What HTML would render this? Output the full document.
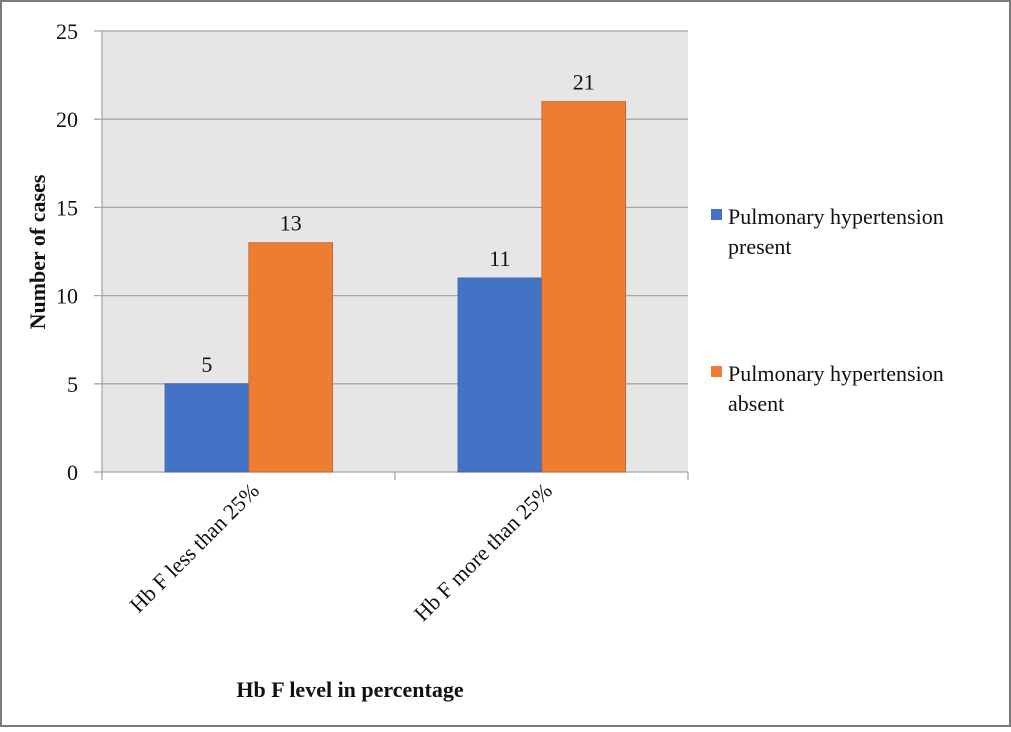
<!DOCTYPE html>
<html><head><meta charset="utf-8"><style>
body{margin:0;background:#fff}
svg text{font-family:"Liberation Serif",serif;fill:#111}
</style></head><body>
<svg width="1011" height="727" viewBox="0 0 1011 727" xmlns="http://www.w3.org/2000/svg">
<rect x="1" y="1" width="1009" height="725" fill="#fff" stroke="#7a7a7a" stroke-width="2"/>
<g id="plot"></g>
<text x="45" y="252" font-size="22" font-weight="bold" text-anchor="middle" transform="rotate(-90 45 252)">Number  of  cases</text>
<text x="350" y="697" font-size="22" font-weight="bold" text-anchor="middle">Hb F  level in percentage</text>
<g>
<rect x="711" y="209" width="11" height="11" fill="#4472c4"/>
<text x="728" y="224" font-size="22"><tspan x="728">Pulmonary hypertension</tspan><tspan x="728" dy="30">present</tspan></text>
<rect x="711" y="366" width="11" height="11" fill="#ed7d31"/>
<text x="728" y="381" font-size="22"><tspan x="728">Pulmonary hypertension</tspan><tspan x="728" dy="30">absent</tspan></text>
</g>
</svg>
<script>
const categories=["Hb F less than 25%","Hb F more than 25%"];
const present=[5,11];
const absent=[13,21];
const yTicks=[0,5,10,15,20,25];
const NS="http://www.w3.org/2000/svg";
const g=document.getElementById('plot');
const x0=102,x1=688,yTop=31,yBot=472,yMax=25;
const y=v=>yBot-(v/yMax)*(yBot-yTop);
const cw=(x1-x0)/categories.length;
function mk(t,a,p){const e=document.createElementNS(NS,t);for(const k in a)e.setAttribute(k,a[k]);(p||g).appendChild(e);return e;}
const bg=mk('rect',{x:x0,y:yTop,width:x1-x0,height:yBot-yTop,fill:'#e6e6e6'});


yTicks.forEach(t=>{
 const l=mk('line',{x1:94,x2:x1,y1:y(t),y2:y(t),stroke:'#a6a6a6','stroke-width':1.3});
 
 
 const tx=mk('text',{x:78,y:y(t)+8,'font-size':22,'text-anchor':'end'});
 tx.textContent=t;
 
 
});
const ax=mk('line',{x1:x0,x2:x0,y1:yTop,y2:yBot,stroke:'#a6a6a6','stroke-width':1.3});


for(let i=0;i<=categories.length;i++){
 const tk=mk('line',{x1:x0+i*cw,x2:x0+i*cw,y1:yBot,y2:yBot+8,stroke:'#a6a6a6','stroke-width':1.3});
 
 
}
const bw=cw*0.286,off=cw*0.215;
categories.forEach((c,i)=>{
 [[present,'#4472c4','present'],[absent,'#ed7d31','absent']].forEach(([s,col,n],j)=>{
  const bx=x0+i*cw+off+j*bw;
  const r=mk('rect',{x:bx,y:y(s[i]),width:bw,height:yBot-y(s[i]),fill:col,stroke:j?'#c0622a':'#3a63ad','stroke-width':0.8});
  
  
  const v=mk('text',{x:bx+bw/2,y:y(s[i])-12,'font-size':22,'text-anchor':'middle'});
  v.textContent=s[i];
  
  
 });
 const cx=x0+i*cw+cw/2+12,cy=yBot+20;
 const lt=mk('text',{x:cx,y:cy,'font-size':22,'text-anchor':'end',transform:`rotate(-45 ${cx} ${cy})`});
 lt.textContent=c;
 
 
});
</script>
</body></html>
